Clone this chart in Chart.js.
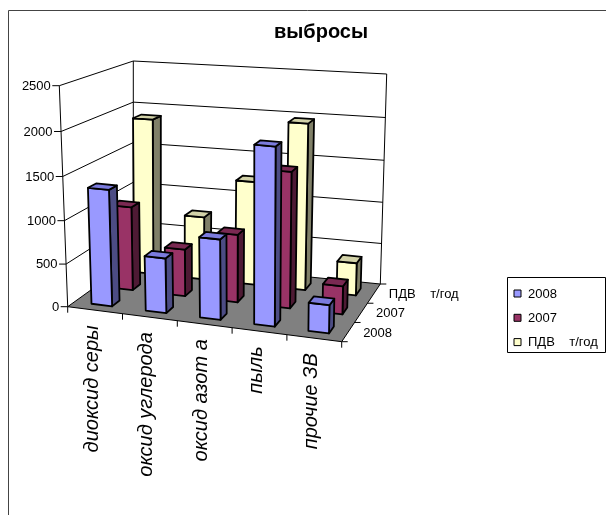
<!DOCTYPE html>
<html>
<head>
<meta charset="utf-8">
<script src="https://cdn.jsdelivr.net/npm/chart.js@4.4.1/dist/chart.umd.min.js"></script>
<style>
  html, body { margin: 0; padding: 0; background: #fff; }
  canvas { display: block; }
</style>
</head>
<body>
<canvas id="myChart" width="606" height="515"></canvas>
<script>
//DATA:
const categories = ['диоксид серы', 'оксид углерода', 'оксид азот а', 'пыль', 'прочие ЗВ'];
const seriesNames = ['2008', '2007', 'ПДВ    т/год'];
const values2008 = [1350, 635, 920, 2000, 320];
const values2007 = [1000, 560, 800, 1580, 330];
const valuesPDV = [1900, 770, 1250, 1980, 390];
const yTicks = [0, 500, 1000, 1500, 2000, 2500];

//STYLES:
const faceColors = [
  { front: '#9999FF', top: '#7B7BDD', side: '#4C4C84' },
  { front: '#993366', top: '#7A2952', side: '#4E1A34' },
  { front: '#FFFFCC', top: '#D2D2A8', side: '#808068' }
];
const font = 'Liberation Sans, Arial, sans-serif';

// box of the 3d plot: floor corners and top (max value) corners, front/back left/right
const frame = {
  floor: { fl: [67.7, 306.7], fr: [341.7, 341.7], bl: [133.3, 259.5], br: [380.3, 284] },
  top: { fl: [59.3, 85.7], fr: [345.5, 109], bl: [133.3, 61], br: [386.7, 74] },
  bend: 0.045
};
const barWidth = 0.38;   // part of a category cell
const barDepth = 0.36;   // part of a series row

function bilerp(q, u, w, k) {
  return (1 - w) * ((1 - u) * q.fl[k] + u * q.fr[k]) + w * ((1 - u) * q.bl[k] + u * q.br[k]);
}

function proj(u, w, t) {
  const tt = t - frame.bend * t * (1 - t);
  const x0 = bilerp(frame.floor, u, w, 0), y0 = bilerp(frame.floor, u, w, 1);
  const x1 = bilerp(frame.top, u, w, 0), y1 = bilerp(frame.top, u, w, 1);
  return [x0 + tt * (x1 - x0), y0 + tt * (y1 - y0)];
}

function poly(ctx, pts, fill, lw) {
  ctx.beginPath();
  ctx.moveTo(pts[0][0], pts[0][1]);
  pts.slice(1).forEach(p => ctx.lineTo(p[0], p[1]));
  ctx.closePath();
  if (fill) {
    ctx.fillStyle = fill;
    ctx.fill();
  }
  if (lw) {
    ctx.lineWidth = lw;
    ctx.strokeStyle = '#000';
    ctx.stroke();
  }
}

function line(ctx, a, b) {
  ctx.beginPath();
  ctx.moveTo(a[0], a[1]);
  ctx.lineTo(b[0], b[1]);
  ctx.stroke();
}

function drawBox(ctx, uc, wc, hu, hw, t, col) {
  const u0 = uc - hu, u1 = uc + hu, w0 = wc - hw, w1 = wc + hw;
  ctx.lineJoin = 'round';
  poly(ctx, [proj(u1, w0, 0), proj(u1, w1, 0), proj(u1, w1, t), proj(u1, w0, t)], col.side, 1.8);
  poly(ctx, [proj(u0, w0, 0), proj(u1, w0, 0), proj(u1, w0, t), proj(u0, w0, t)], col.front, 1.8);
  poly(ctx, [proj(u0, w0, t), proj(u1, w0, t), proj(u1, w1, t), proj(u0, w1, t)], col.top, 1.8);
}

const bars3d = {
  id: 'bars3d',
  beforeDraw(chart) {
    const ctx = chart.ctx;
    ctx.save();
    ctx.strokeStyle = '#444';
    ctx.lineWidth = 1;
    ctx.beginPath();
    ctx.moveTo(8.5, 520);
    ctx.lineTo(8.5, 10.5);
    ctx.lineTo(610, 10.5);
    ctx.stroke();
    ctx.restore();
  },
  beforeDatasetsDraw(chart) {
    const ctx = chart.ctx;
    const xs = chart.scales.x, ys = chart.scales.y, zs = chart.scales.z;
    const uOf = i => xs.getDecimalForPixel(xs.getPixelForValue(i));
    const wOf = s => zs.getDecimalForPixel(zs.getPixelForValue(s));
    const tOf = v => ys.getDecimalForPixel(ys.getPixelForValue(v));
    const nCat = chart.data.labels.length;
    const nSer = chart.data.datasets.length;
    ctx.save();

    // floor
    poly(ctx, [proj(0, 0, 0), proj(1, 0, 0), proj(1, 1, 0), proj(0, 1, 0)], '#808080', 0);

    // walls and gridlines
    ctx.strokeStyle = '#000';
    ctx.lineWidth = 1;
    ys.ticks.forEach(tick => {
      const t = tOf(tick.value);
      ctx.beginPath();
      const a = proj(0, 0, t), b = proj(0, 1, t), c = proj(1, 1, t);
      ctx.moveTo(a[0], a[1]);
      ctx.lineTo(b[0], b[1]);
      ctx.lineTo(c[0], c[1]);
      ctx.stroke();
    });
    line(ctx, proj(0, 0, 0), proj(0, 0, 1));
    line(ctx, proj(0, 1, 0), proj(0, 1, 1));
    line(ctx, proj(1, 1, 0), proj(1, 1, 1));
    line(ctx, proj(0, 0, 0), proj(1, 0, 0));
    line(ctx, proj(1, 0, 0), proj(1, 1, 0));

    // category and depth ticks
    for (let k = 0; k <= nCat; k++) {
      const p = proj(k / nCat, 0, 0);
      line(ctx, p, [p[0], p[1] + 6]);
    }
    for (let k = 0; k <= nSer; k++) {
      const p = proj(1, k / nSer, 0);
      line(ctx, p, [p[0] + 6, p[1]]);
    }

    // value axis ticks and labels
    ctx.font = '13px ' + font;
    ctx.fillStyle = '#000';
    ctx.textAlign = 'right';
    ctx.textBaseline = 'middle';
    ys.ticks.forEach(tick => {
      const p = proj(0, 0, tOf(tick.value));
      line(ctx, p, [p[0] - 7, p[1]]);
      ctx.fillText(String(tick.value), p[0] - 8.5, p[1] + 0.5);
    });

    // bars, back row first, left to right
    const hu = barWidth / nCat / 2, hw = barDepth / nSer / 2;
    for (let s = nSer - 1; s >= 0; s--) {
      const ds = chart.data.datasets[s];
      ds.data.forEach((v, i) => {
        drawBox(ctx, uOf(i), wOf(s), hu, hw, tOf(v), faceColors[s]);
      });
    }

    // category labels
    ctx.fillStyle = '#000';
    ctx.font = 'italic 20px ' + font;
    ctx.textAlign = 'right';
    ctx.textBaseline = 'middle';
    chart.data.labels.forEach((label, i) => {
      const p = proj(uOf(i), 0, 0);
      ctx.save();
      ctx.translate(p[0] - 3, p[1] + 15);
      ctx.rotate(-Math.PI / 2);
      ctx.fillText(label, 0, 0);
      ctx.restore();
    });

    // depth labels
    ctx.font = '13px ' + font;
    ctx.textAlign = 'left';
    zs.getLabels().forEach((label, s) => {
      const p = proj(1, wOf(s), 0);
      ctx.fillText(label, p[0] + 15, p[1] + 1);
    });

    // legend
    ctx.lineWidth = 1;
    ctx.strokeStyle = '#000';
    ctx.strokeRect(507.5, 277.5, 98, 75);
    chart.data.datasets.forEach((ds, s) => {
      const y = 293.5 + s * 24.3;
      ctx.fillStyle = ds.backgroundColor;
      ctx.fillRect(514, y - 3.5, 7, 7);
      ctx.strokeRect(514, y - 3.5, 7, 7);
      ctx.fillStyle = '#000';
      ctx.fillText(ds.label, 528, y + 0.5);
    });

    ctx.restore();
    return false;
  }
};

//CHART:
const chartLayout = document.getElementById('myChart');
const myChart = new Chart(chartLayout, {
  type: 'bar',
  data: {
    labels: categories,
    datasets: [
      { label: seriesNames[0], data: values2008, backgroundColor: faceColors[0].front, xAxisID: 'x', yAxisID: 'y' },
      { label: seriesNames[1], data: values2007, backgroundColor: faceColors[1].front, xAxisID: 'x', yAxisID: 'y' },
      { label: seriesNames[2], data: valuesPDV, backgroundColor: faceColors[2].front, xAxisID: 'x', yAxisID: 'y' }
    ]
  },
  options: {
    responsive: false,
    animation: false,
    events: [],
    layout: { padding: { left: 36 } },
    plugins: {
      legend: { display: false },
      tooltip: { enabled: false },
      title: {
        display: true,
        text: 'выбросы',
        color: '#000',
        font: { family: font, size: 20, weight: 'bold' },
        padding: { top: 20, bottom: 10 }
      }
    },
    scales: {
      x: { type: 'category', offset: true, display: false },
      z: { type: 'category', axis: 'x', position: 'bottom', labels: seriesNames, offset: true, display: false },
      y: {
        type: 'linear',
        min: 0,
        max: 2500,
        display: false,
        afterBuildTicks: axis => {
          axis.ticks = yTicks.map(v => ({ value: v }));
        }
      }
    }
  },
  plugins: [bars3d]
});
</script>
</body>
</html>
